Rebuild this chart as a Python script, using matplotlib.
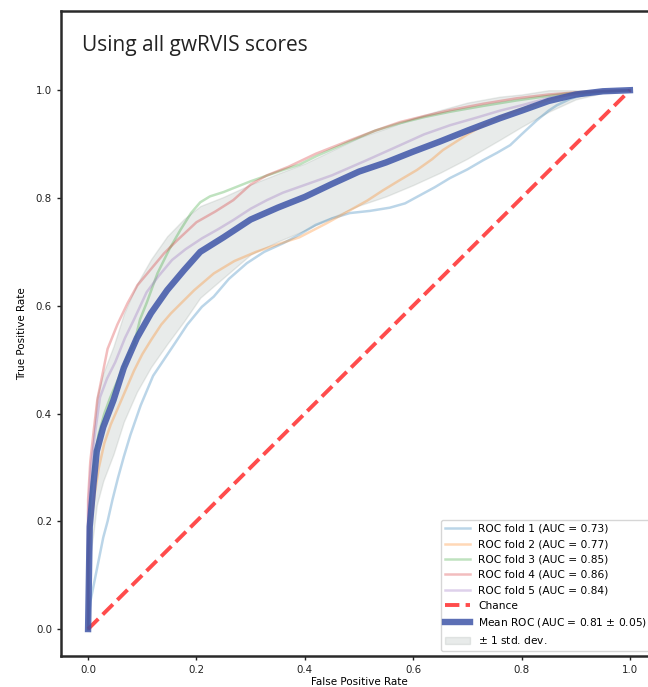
import numpy as np
import matplotlib
matplotlib.use("Agg")
import matplotlib.pyplot as plt

# ---- data ----
fold1_fpr = [0, 0.004, 0.012, 0.02, 0.028, 0.036, 0.045, 0.055, 0.066, 0.078, 0.097, 0.12, 0.14, 0.16, 0.183,
             0.21, 0.232, 0.26, 0.293, 0.325, 0.36, 0.39, 0.42, 0.45, 0.483, 0.52, 0.557, 0.585, 0.607, 0.64,
             0.668, 0.70, 0.729, 0.755, 0.779, 0.80, 0.828, 0.85, 0.865, 0.89, 0.913, 0.95, 1.0]
fold1_tpr = [0, 0.05, 0.09, 0.13, 0.17, 0.2, 0.24, 0.28, 0.32, 0.36, 0.415, 0.47, 0.5, 0.53, 0.565,
             0.598, 0.617, 0.65, 0.679, 0.70, 0.716, 0.732, 0.75, 0.762, 0.772, 0.776, 0.782, 0.79, 0.802, 0.82,
             0.837, 0.853, 0.87, 0.884, 0.898, 0.918, 0.944, 0.962, 0.972, 0.984, 0.991, 0.997, 1.0]

fold2_fpr = [0, 0, 0.005, 0.012, 0.02, 0.03, 0.042, 0.055, 0.07, 0.085, 0.1, 0.116, 0.135, 0.153, 0.175,
             0.196, 0.232, 0.27, 0.31, 0.35, 0.39, 0.44, 0.483, 0.515, 0.544, 0.575, 0.607, 0.635, 0.655,
             0.68, 0.70, 0.73, 0.76, 0.79, 0.821, 0.85, 0.884, 0.93, 1.0]
fold2_tpr = [0, 0.12, 0.19, 0.25, 0.3, 0.345, 0.38, 0.41, 0.445, 0.48, 0.51, 0.536, 0.565, 0.586, 0.608,
             0.629, 0.66, 0.683, 0.70, 0.714, 0.727, 0.753, 0.777, 0.795, 0.814, 0.833, 0.852, 0.872, 0.889,
             0.905, 0.918, 0.935, 0.95, 0.962, 0.972, 0.982, 0.991, 0.996, 1.0]

fold3_fpr = [0, 0, 0.004, 0.01, 0.019, 0.03, 0.041, 0.056, 0.072, 0.085, 0.096, 0.108, 0.128, 0.15, 0.17,
             0.19, 0.207, 0.225, 0.25, 0.30, 0.36, 0.39, 0.422, 0.483, 0.53, 0.576, 0.62, 0.668, 0.73, 0.791,
             0.84, 0.884, 0.94, 1.0]
fold3_tpr = [0, 0.15, 0.24, 0.3, 0.36, 0.4, 0.43, 0.465, 0.505, 0.53, 0.575, 0.605, 0.66, 0.705, 0.74,
             0.772, 0.792, 0.803, 0.811, 0.831, 0.852, 0.862, 0.878, 0.905, 0.925, 0.939, 0.95, 0.96, 0.971, 0.981,
             0.988, 0.994, 0.998, 1.0]

fold4_fpr = [0, 0, 0.004, 0.01, 0.017, 0.024, 0.036, 0.054, 0.073, 0.091, 0.116, 0.14, 0.165, 0.2, 0.235,
             0.268, 0.30, 0.33, 0.37, 0.42, 0.483, 0.53, 0.576, 0.62, 0.668, 0.73, 0.791, 0.85, 0.9, 0.95, 1.0]
fold4_tpr = [0, 0.24, 0.31, 0.365, 0.425, 0.46, 0.52, 0.565, 0.605, 0.638, 0.668, 0.697, 0.722, 0.755, 0.775,
             0.796, 0.825, 0.842, 0.858, 0.882, 0.907, 0.925, 0.941, 0.952, 0.963, 0.975, 0.985, 0.992, 0.996,
             0.999, 1.0]

fold5_fpr = [0, 0, 0.005, 0.013, 0.022, 0.035, 0.05, 0.068, 0.085, 0.108, 0.13, 0.155, 0.18, 0.21, 0.24,
             0.268, 0.30, 0.33, 0.36, 0.391, 0.45, 0.514, 0.576, 0.62, 0.668, 0.72, 0.76, 0.80, 0.852, 0.9,
             0.95, 1.0]
fold5_tpr = [0, 0.22, 0.3, 0.365, 0.43, 0.465, 0.495, 0.54, 0.575, 0.625, 0.655, 0.685, 0.705, 0.725, 0.742,
             0.759, 0.78, 0.796, 0.81, 0.821, 0.842, 0.87, 0.898, 0.918, 0.935, 0.95, 0.962, 0.972, 0.986, 0.993,
             0.998, 1.0]

fold_aucs = [0.73, 0.77, 0.85, 0.86, 0.84]

mean_fpr = [0, 0.003, 0.01, 0.016, 0.028, 0.047, 0.066, 0.09, 0.116, 0.146, 0.177, 0.207, 0.25, 0.30, 0.35,
            0.40, 0.45, 0.50, 0.55, 0.60, 0.65, 0.70, 0.76, 0.80, 0.85, 0.90, 0.95, 1.0]
mean_tpr = [0, 0.19, 0.27, 0.33, 0.375, 0.425, 0.485, 0.54, 0.586, 0.629, 0.666, 0.700, 0.727, 0.760, 0.782,
            0.802, 0.826, 0.849, 0.866, 0.886, 0.905, 0.925, 0.948, 0.962, 0.980, 0.992, 0.998, 1.0]
std_tpr = [0, 0.06, 0.09, 0.10, 0.10, 0.10, 0.10, 0.10, 0.10, 0.10, 0.095, 0.085, 0.075, 0.065, 0.063,
           0.062, 0.062, 0.063, 0.063, 0.062, 0.058, 0.052, 0.04, 0.03, 0.02, 0.009, 0.003, 0]
mean_auc = 0.81
std_auc = 0.05

title_text = "Using all gwRVIS scores"

# ---- plotting ----
fig = plt.figure(figsize=(6.48, 6.87), dpi=100)
ax = fig.add_axes([61 / 648, 1 - 656 / 687, 596 / 648, 645 / 687])

fold_colors = ["#1f77b4", "#ff7f0e", "#2ca02c", "#d62728", "#9467bd"]
folds = [(fold1_fpr, fold1_tpr), (fold2_fpr, fold2_tpr), (fold3_fpr, fold3_tpr),
         (fold4_fpr, fold4_tpr), (fold5_fpr, fold5_tpr)]
for i, ((f, t), a, c) in enumerate(zip(folds, fold_aucs, fold_colors)):
    ax.plot(f, t, lw=1.8, alpha=0.3, color=c, label="ROC fold %d (AUC = %0.2f)" % (i + 1, a))

ax.plot([0, 1], [0, 1], linestyle="--", lw=2.8, color="#ff0000", alpha=0.7, label="Chance")

ax.plot(mean_fpr, mean_tpr, color="#3f56a8", lw=4.6, alpha=0.85,
        label=r"Mean ROC (AUC = %0.2f $\pm$ %0.2f)" % (mean_auc, std_auc))

mt = np.array(mean_tpr)
sd = np.array(std_tpr)
upper = np.minimum(mt + sd, 1)
lower = np.maximum(mt - sd, 0)
ax.fill_between(mean_fpr, lower, upper, color="#909c96", alpha=0.2, label=r"$\pm$ 1 std. dev.")

ax.set_xlim(-0.05, 1.05)
ax.set_ylim(-0.05, 1.147)
ax.set_xticks([0, 0.2, 0.4, 0.6, 0.8, 1.0])
ax.set_yticks([0, 0.2, 0.4, 0.6, 0.8, 1.0])
ax.tick_params(labelsize=7.4, length=3, width=1, colors="#222222")
for s in ax.spines.values():
    s.set_linewidth(1.8)
    s.set_color("#2a2a2a")
ax.set_xlabel("False Positive Rate", fontsize=7.5, labelpad=1.5)
ax.set_ylabel("True Positive Rate", fontsize=7.5, labelpad=6)

ax.text(-0.011, 1.072, title_text, fontsize=15, family="Open Sans", color="#222222",
        va="baseline", ha="left")

leg = ax.legend(loc="lower right", fontsize=7.7, frameon=True, fancybox=True, framealpha=0.8,
                edgecolor="#cccccc", handlelength=2.3, labelspacing=0.5)

fig.savefig("out.png", dpi=100)
